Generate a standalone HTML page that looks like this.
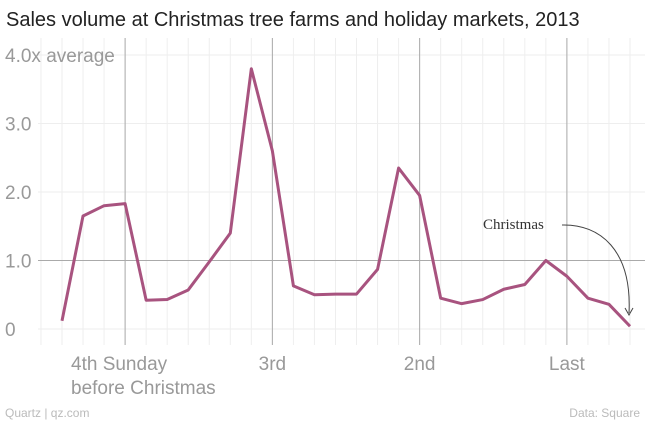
<!DOCTYPE html>
<html><head><meta charset="utf-8"><style>
body{margin:0;background:#fff;font-family:"Liberation Sans",sans-serif}
</style></head><body>
<svg width="645" height="422" xmlns="http://www.w3.org/2000/svg">
<text x="6" y="26" font-size="20" fill="#222">Sales volume at Christmas tree farms and holiday markets, 2013</text>
<g id="grid"></g>
<g id="yaxis"></g>
<g id="xaxis"></g>
<path id="line" fill="none" stroke="#a8537f" stroke-width="3" stroke-linejoin="round"/>
<text x="483" y="229" font-family="Liberation Serif,serif" font-size="15" fill="#333">Christmas</text>
<path d="M562 225 C600 224 632 250 629 313" fill="none" stroke="#444" stroke-width="1"/>
<path d="M625 308 L629 315 L633 308" fill="none" stroke="#444" stroke-width="1"/>
<text x="5" y="417" font-size="12" fill="#bbb">Quartz | qz.com</text>
<text x="640" y="417" font-size="12" fill="#bbb" text-anchor="end">Data: Square</text>
</svg>
<script>
const values=[0.12,1.65,1.8,1.83,0.42,0.43,0.57,0.98,1.4,3.8,2.6,0.63,0.5,0.51,0.51,0.87,2.35,1.95,0.45,0.37,0.43,0.58,0.65,1.0,0.77,0.45,0.36,0.04];
const yTicks=[0,1,2,3,4];
const yTickLabels=["0","1.0","2.0","3.0","4.0x average"];
const xMajorIdx=[3,10,17,24];
const xMajorLabels=[["4th Sunday","before Christmas"],["3rd"],["2nd"],["Last"]];
const NS="http://www.w3.org/2000/svg";
const x=i=>62+i*(630-62)/27;
const y=v=>329-v*68.5;
function mk(t,a,p){const e=document.createElementNS(NS,t);for(const k in a)e.setAttribute(k,a[k]);p.appendChild(e);return e;}
const grid=document.getElementById('grid'),ya=document.getElementById('yaxis'),xa=document.getElementById('xaxis');
for(let i=-1;i<=28;i++){const xx=x(i);if(xx<38||xx>645)continue;
 const l=mk('line',{x1:xx,x2:xx,y1:38,y2:345,stroke:'#eee','stroke-width':1},grid);
 
 }
yTicks.forEach((v,i)=>{
 const l=mk('line',{x1:38,x2:645,y1:y(v),y2:y(v),stroke:v===1?'#aaa':'#eee','stroke-width':1},grid);
 
 
 const t=mk('text',{x:5,y:y(v)+7,'font-size':19,fill:'#999'},ya);t.textContent=yTickLabels[i];
 
 
});
xMajorIdx.forEach((d,i)=>{
 const l=mk('line',{x1:x(d),x2:x(d),y1:38,y2:345,stroke:'#aaa','stroke-width':1},grid);
 
 
 xMajorLabels[i].forEach((s,j)=>{
  const t=mk('text',{x:j===0&&xMajorLabels[i].length===1?x(d):(i===0?x(d)-53:x(d)),y:370+j*24,'font-size':19,fill:'#999','text-anchor':xMajorLabels[i].length===1?'middle':'start'},xa);
  if(i===0)t.setAttribute('x',71);
  t.textContent=s;
  
  
 });
});
document.getElementById('line').setAttribute('d',values.map((v,i)=>(i?'L':'M')+x(i)+' '+y(v)).join(' '));
</script>
</body></html>
